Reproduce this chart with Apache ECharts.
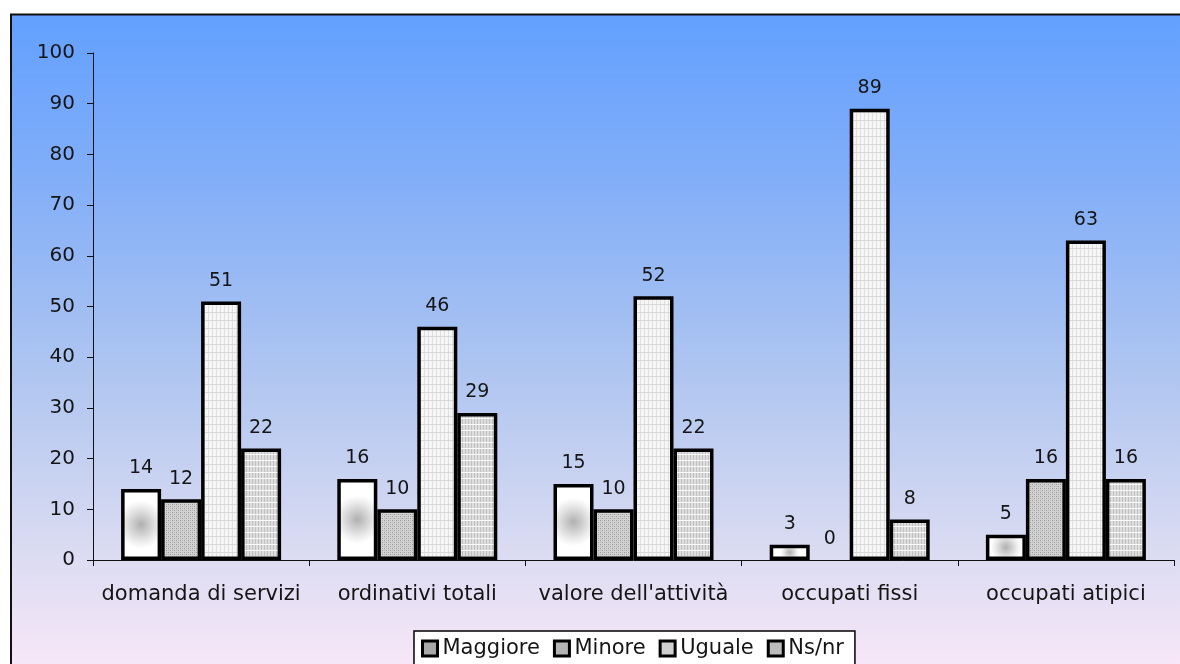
<!DOCTYPE html>
<html>
<head>
<meta charset="utf-8">
<style>
  html, body { margin: 0; padding: 0; background: #ffffff; }
  #chart { width: 1180px; height: 664px; }
</style>
<script src="https://cdn.jsdelivr.net/npm/echarts@6/dist/echarts.min.js"></script>
</head>
<body>
<div id="chart"></div>
<script>
// Categories and the four response shares (%)
const categories = ['domanda di servizi', 'ordinativi totali', "valore dell'attività", 'occupati fissi', 'occupati atipici'];
const seriesNames = ['Maggiore', 'Minore', 'Uguale', 'Ns/nr'];
const maggiore = [14, 16, 15, 3, 5];
const minore   = [12, 10, 10, 0, 16];
const uguale   = [51, 46, 52, 89, 63];
const nsnr     = [22, 29, 22, 8, 16];
const yTicks   = [0, 10, 20, 30, 40, 50, 60, 70, 80, 90, 100];

const FONT = '"DejaVu Sans", Verdana, sans-serif';
const INK = '#151515';

// Small tiled canvases used as hatched fills for the bars
function makePattern(w, h, draw) {
  const c = document.createElement('canvas');
  c.width = w; c.height = h;
  const ctx = c.getContext('2d');
  draw(ctx, w, h);
  return { image: c, repeat: 'repeat' };
}

const dotFill = makePattern(4, 4, (ctx, w, h) => {
  ctx.fillStyle = '#d2d2d2'; ctx.fillRect(0, 0, w, h);
  ctx.fillStyle = '#989898';
  ctx.fillRect(0, 0, 1, 1); ctx.fillRect(2, 2, 1, 1);
  ctx.fillStyle = '#b8b8b8';
  ctx.fillRect(2, 0, 1, 1); ctx.fillRect(0, 2, 1, 1);
});

const lightGridFill = makePattern(8, 8, (ctx, w, h) => {
  ctx.fillStyle = '#f6f6f6'; ctx.fillRect(0, 0, w, h);
  ctx.fillStyle = '#e0e0e0';
  ctx.fillRect(0, 0, 1, h);
  ctx.fillRect(4, 0, 1, h);
  ctx.fillStyle = '#d8d8d8';
  ctx.fillRect(0, 0, w, 1);
});

const gridFill = makePattern(6, 6, (ctx, w, h) => {
  ctx.fillStyle = '#dedede'; ctx.fillRect(0, 0, w, h);
  ctx.fillStyle = '#c0c0c0';
  ctx.fillRect(0, 0, 1, h); ctx.fillRect(3, 0, 1, h);
  ctx.fillStyle = '#fbfbfb';
  ctx.fillRect(0, 4, w, 1);
});

const centerFill = {
  type: 'radial', x: 0.5, y: 0.5, r: 0.6,
  colorStops: [
    { offset: 0, color: '#b0b0b0' },
    { offset: 0.7, color: '#eaeaea' },
    { offset: 1, color: '#ffffff' }
  ]
};

const fills = [centerFill, dotFill, lightGridFill, gridFill];
const legendIconColors = ['#a8a8a8', '#b4b4b4', '#cfcfcf', '#bcbcbc'];
const values = [maggiore, minore, uguale, nsnr];

// Zero-height bars get no outline, so only their label shows
function toItems(arr) {
  return arr.map(v => (v === 0 ? { value: v, itemStyle: { borderWidth: 0 } } : v));
}

const chart = echarts.init(document.getElementById('chart'), null, { renderer: 'canvas' });

const option = {
  animation: false,
  graphic: [{
    type: 'rect',
    z: -10,
    silent: true,
    shape: { x: 11, y: 14.5, width: 1180, height: 660 },
    style: {
      fill: {
        type: 'linear', x: 0, y: 0, x2: 0, y2: 1,
        colorStops: [
          { offset: 0, color: '#62a0ff' },
          { offset: 0.25, color: '#82aef8' },
          { offset: 0.55, color: '#b0c6f0' },
          { offset: 0.82, color: '#dcdcf2' },
          { offset: 1, color: '#fae8f8' }
        ]
      },
      stroke: '#111111',
      lineWidth: 2
    }
  }],
  grid: { left: 93, right: 6, top: 53, bottom: 104, containLabel: false },
  legend: {
    left: 414,
    top: 631,
    width: 480,
    data: seriesNames.map((n, i) => ({
      name: n,
      itemStyle: { color: legendIconColors[i], borderColor: '#000', borderWidth: 3 }
    })),
    icon: 'rect',
    itemWidth: 15,
    itemHeight: 15,
    itemGap: 13,
    padding: [7, 11, 12, 7],
    backgroundColor: '#ffffff',
    borderColor: '#000000',
    borderWidth: 1.5,
    borderRadius: 0,
    textStyle: { fontFamily: FONT, fontSize: 21, color: INK }
  },
  xAxis: {
    type: 'category',
    data: categories,
    axisLine: { lineStyle: { color: '#111', width: 1 } },
    axisTick: { show: true, length: 6, lineStyle: { color: '#111' } },
    axisLabel: { fontFamily: FONT, fontSize: 21, color: INK, margin: 24, interval: 0 }
  },
  yAxis: {
    type: 'value',
    min: yTicks[0],
    max: yTicks[yTicks.length - 1],
    interval: yTicks[1] - yTicks[0],
    axisLine: { show: true, lineStyle: { color: '#111', width: 1 } },
    axisTick: { show: true, length: 6, lineStyle: { color: '#111' } },
    splitLine: { show: false },
    axisLabel: { fontFamily: FONT, fontSize: 20, color: INK, margin: 18 }
  },
  series: seriesNames.map((name, i) => ({
    name: name,
    type: 'bar',
    data: toItems(values[i]),
    barGap: '0%',
    barCategoryGap: '26%',
    itemStyle: { color: fills[i], borderColor: '#000', borderWidth: 3.5 },
    label: {
      show: true,
      position: 'top',
      distance: 11,
      fontFamily: FONT,
      fontSize: 19,
      color: INK
    }
  }))
};

chart.setOption(option);
</script>
</body>
</html>
